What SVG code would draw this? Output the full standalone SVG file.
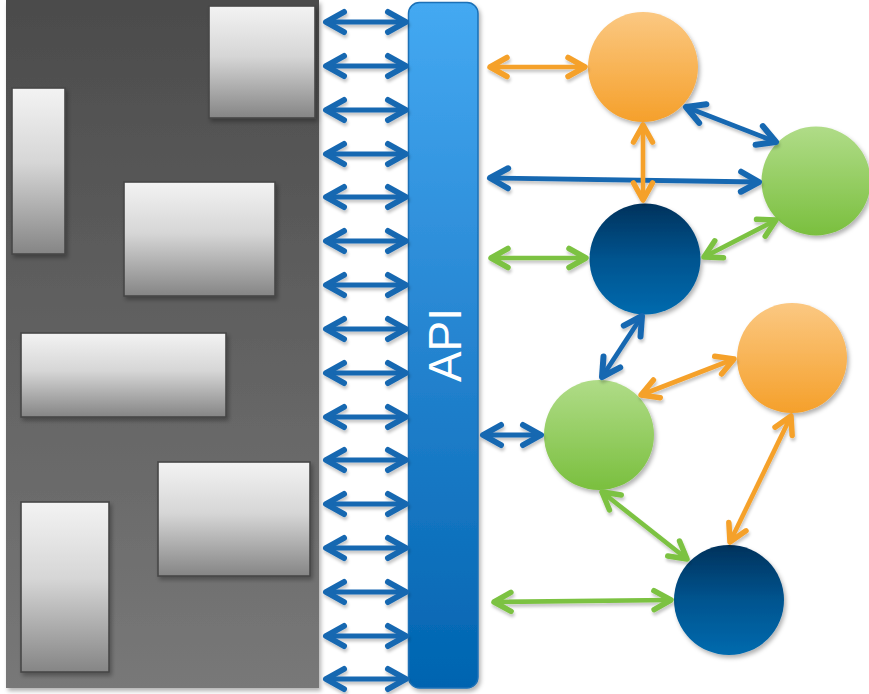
<svg xmlns="http://www.w3.org/2000/svg" width="869" height="694" viewBox="0 0 869 694">
<defs>
<linearGradient id="panelG" x1="0" y1="0" x2="0" y2="1"><stop offset="0" stop-color="#4b4b4b"/><stop offset="1" stop-color="#787878"/></linearGradient>
<linearGradient id="boxG" x1="0" y1="0" x2="0" y2="1"><stop offset="0" stop-color="#f3f3f3"/><stop offset="0.45" stop-color="#d6d6d6"/><stop offset="1" stop-color="#858585"/></linearGradient>
<linearGradient id="apiG" x1="0" y1="0" x2="0" y2="1"><stop offset="0" stop-color="#44a9f2"/><stop offset="0.5" stop-color="#2584d0"/><stop offset="1" stop-color="#0064b0"/></linearGradient>
<linearGradient id="orG" x1="0" y1="0" x2="0" y2="1"><stop offset="0" stop-color="#fbc882"/><stop offset="1" stop-color="#f5a02b"/></linearGradient>
<linearGradient id="grG" x1="0" y1="0" x2="0" y2="1"><stop offset="0" stop-color="#b0dc88"/><stop offset="1" stop-color="#7abf3e"/></linearGradient>
<linearGradient id="nvG" x1="0" y1="0" x2="0" y2="1"><stop offset="0" stop-color="#00325c"/><stop offset="0.5" stop-color="#00548f"/><stop offset="1" stop-color="#006aae"/></linearGradient>
<filter id="sh" x="-20%" y="-20%" width="140%" height="140%"><feDropShadow dx="2" dy="3" stdDeviation="2" flood-color="#000" flood-opacity="0.3"/></filter>
<filter id="shs" x="-20%" y="-50%" width="140%" height="200%"><feDropShadow dx="1" dy="3" stdDeviation="1.5" flood-color="#000" flood-opacity="0.22"/></filter>
<marker id="mB" markerUnits="userSpaceOnUse" markerWidth="32" markerHeight="32" viewBox="-26 -16 32 32" refX="0" refY="0" orient="auto-start-reverse"><path d="M-18,-10 L0,0 L-18,10" fill="none" stroke="#1767b1" stroke-width="6" stroke-linecap="round" stroke-linejoin="round"/></marker>
<marker id="mO" markerUnits="userSpaceOnUse" markerWidth="32" markerHeight="32" viewBox="-26 -16 32 32" refX="0" refY="0" orient="auto-start-reverse"><path d="M-17,-9.5 L0,0 L-17,9.5" fill="none" stroke="#f5a12b" stroke-width="5.5" stroke-linecap="round" stroke-linejoin="round"/></marker>
<marker id="mG" markerUnits="userSpaceOnUse" markerWidth="32" markerHeight="32" viewBox="-26 -16 32 32" refX="0" refY="0" orient="auto-start-reverse"><path d="M-17,-9.5 L0,0 L-17,9.5" fill="none" stroke="#7cc242" stroke-width="5.5" stroke-linecap="round" stroke-linejoin="round"/></marker>
</defs>
<style>
.box{fill:url(#boxG);stroke:#474747;stroke-width:1.6;filter:url(#sh)}
.b{stroke:#1767b1;stroke-width:4.8;fill:none;marker-start:url(#mB);marker-end:url(#mB)}
.bl{stroke:#1767b1;stroke-width:5;fill:none;marker-start:url(#mB);marker-end:url(#mB)}
.o{stroke:#f5a12b;stroke-width:4.6;fill:none;marker-start:url(#mO);marker-end:url(#mO)}
.g{stroke:#7cc242;stroke-width:4.6;fill:none;marker-start:url(#mG);marker-end:url(#mG)}
.nd{filter:url(#sh)}
</style>
<rect width="869" height="694" fill="#ffffff"/>
<g id="system">
<rect x="6" y="0" width="313" height="688" fill="url(#panelG)" filter="url(#sh)"/>
<rect id="box1" class="box" x="209" y="6" width="106" height="112"/>
<rect id="box2" class="box" x="12" y="88" width="53" height="166"/>
<rect id="box3" class="box" x="124" y="182" width="151" height="114"/>
<rect id="box4" class="box" x="21" y="333" width="205" height="84"/>
<rect id="box5" class="box" x="158" y="462" width="152" height="114"/>
<rect id="box6" class="box" x="21" y="502" width="88" height="170"/>
</g>
<g id="api">
<rect x="408.5" y="2.5" width="69.5" height="685.5" rx="11" fill="url(#apiG)" stroke="#1b70b6" stroke-width="1.5" filter="url(#sh)"/>
<text transform="translate(461,345) rotate(-90)" text-anchor="middle" font-family="Liberation Sans, Arial, sans-serif" font-size="46" fill="#ffffff">API</text>
</g>
<g id="n-orange1" class="nd"><circle cx="643" cy="67" r="55" fill="url(#orG)"/></g>
<g id="n-green1" class="nd"><circle cx="816" cy="181" r="54.5" fill="url(#grG)"/></g>
<g id="n-navy1" class="nd"><circle cx="645" cy="259" r="55.5" fill="url(#nvG)"/></g>
<g id="n-green2" class="nd"><circle cx="599" cy="435" r="55" fill="url(#grG)"/></g>
<g id="n-orange2" class="nd"><circle cx="792" cy="358" r="55" fill="url(#orG)"/></g>
<g id="n-navy2" class="nd"><circle cx="729" cy="600" r="55" fill="url(#nvG)"/></g>
<g id="connectors">
<g filter="url(#shs)">
<path class="bl" d="M326,22H406"/>
<path class="bl" d="M326,66H406"/>
<path class="bl" d="M326,110H406"/>
<path class="bl" d="M326,154H406"/>
<path class="bl" d="M326,197H406"/>
<path class="bl" d="M326,241H406"/>
<path class="bl" d="M326,285H406"/>
<path class="bl" d="M326,329H406"/>
<path class="bl" d="M326,373H406"/>
<path class="bl" d="M326,417H406"/>
<path class="bl" d="M326,460H406"/>
<path class="bl" d="M326,504H406"/>
<path class="bl" d="M326,548H406"/>
<path class="bl" d="M326,592H406"/>
<path class="bl" d="M326,636H406"/>
<path class="bl" d="M326,679H406"/>
</g>
<g filter="url(#shs)">
<path class="o" d="M490,67H585"/>
<path class="b" d="M686,107L776,142"/>
<path class="b" d="M490,178L759,182"/>
<path class="o" d="M643,125V200"/>
<path class="g" d="M491,258H586"/>
<path class="g" d="M704,257L776,220"/>
<path class="b" d="M642,316L602,377"/>
<path class="b" d="M483,435H541"/>
<path class="o" d="M641,395L734,359"/>
<path class="o" d="M791,416L730,542"/>
<path class="g" d="M602,492L687,559"/>
<path class="g" d="M494,602L671,600"/>
</g>
</g>
</svg>
